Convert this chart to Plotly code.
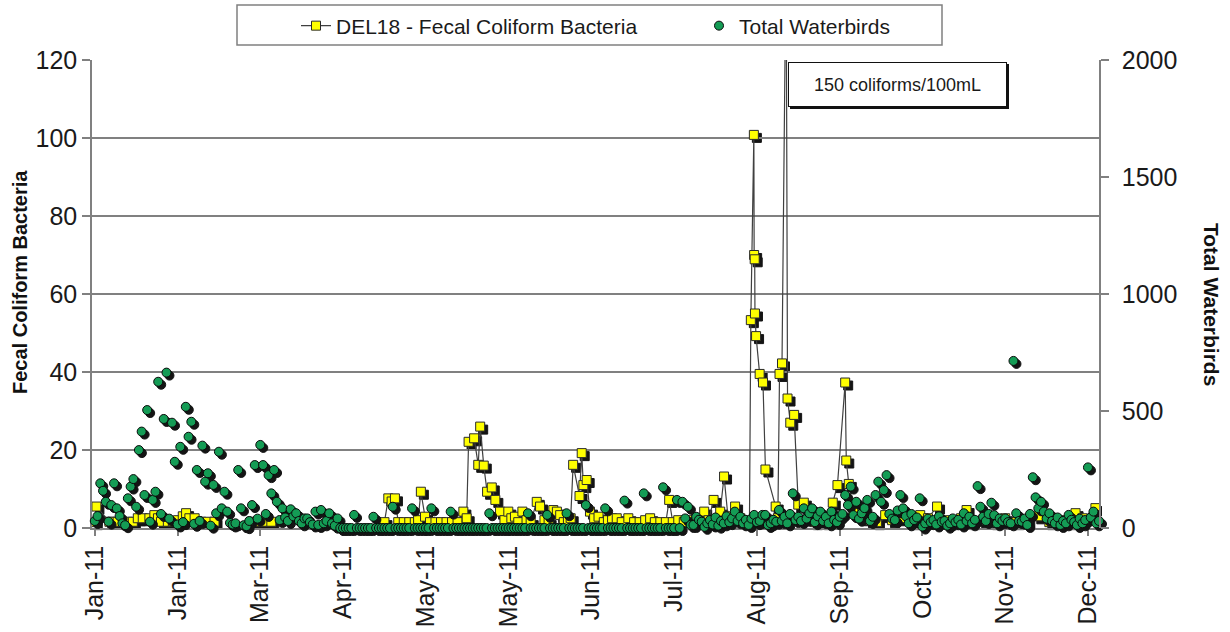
import pandas as pd
import plotly.graph_objects as go

# DEL18 fecal coliform samples: days after 1 Jan 2011 and result (coliforms/100 mL).
# None marks a break in sampling so the line is not drawn across it.
coliform_day = [
    0.0, 0.6, 5.3, 6.5, 8.3, 12.0, 13.8, 15.6, 17.4, 19.8,
    21.6, 22.9, 24.0, 26.5, 28.3, 30.1, 31.9, 33.1, 34.3, 36.2,
    38.6, 41.0, 43.4, 50.0, 56.7, 59.1, 61.6, 64.0, 85.0, 105.0,
    106.4, 107.6, 108.8, 110.0, 112.0, 114.0, 116.0, 117.2, 118.2, 119.7,
    121.5, 123.5, 125.5, 127.5, 129.5, 131.5, 133.6, 134.8, 135.5, 137.5,
    139.0, 139.7, 141.0, 142.2, 143.9, 145.2, 146.9, 148.5, 149.9, 151.0,
    152.3, 153.5, 155.0, 156.5, 158.0, 160.2, 161.4, 163.0, 164.5, 166.2,
    167.5, 168.7, 170.0, 171.5, 172.5, 173.4, 175.7, 176.5, 177.1, 178.3,
    179.5, 181.0, 182.6, 184.5, 186.0, 187.5, 189.2, 191.0, 193.4, 195.5,
    197.5, 199.5, 201.3, 203.0, 205.0, 207.0, 208.2, 209.5, 211.5, 213.5,
    215.5, 218.0, 220.9, 222.5, 224.3, 226.7, 228.1, 229.5, 232.1, 234.0,
    236.0, 237.3, 237.8, 238.9, 239.0, 239.2, 239.3, 239.7, 241.0, 242.2,
    243.1, 246.8, 247.6, 248.2, 249.1, 250.6, 251.1, 252.1, 253.5, 255.0,
    257.0, 259.0, 261.0, 263.0, 265.0, 267.5, 269.2, 272.0, 272.4, 273.3,
    275.0, 278.0, 281.0, 283.5, 286.5, 289.0, 292.0, 296.0, 299.2, 302.0,
    305.3, 308.0, 311.0, 314.0, 316.0, 318.0, 322.0, 326.0, 330.0, 334.0,
    338.0, 342.0, 346.0, 350.0, 354.0, 355.5, 358.0, 362.7,
]
coliform_count = [
    1.5, 5.5, 1.6, 1.6, 1.6, 1.6, 1.6, 2.5, 2.5, 2.5,
    3.3, 2.5, 1.6, 1.6, 1.6, 2.0, 3.0, 3.8, 2.5, 2.5,
    1.6, 1.6, 1.6, None, 1.6, 1.6, 1.6, 1.6, None, 1.5,
    7.6, 6.8, 7.6, 1.5, 1.5, 1.5, 1.5, 2.0, 9.3, 2.9,
    1.5, 1.5, 1.5, 1.5, 1.5, 1.5, 4.2, 2.5, 22.1, 23.0,
    16.2, 26.0, 16.0, 9.3, 10.4, 7.2, 4.2, 2.0, 4.2, 2.5,
    2.9, 1.5, 4.2, 2.0, 1.5, 6.7, 5.5, 2.0, 1.5, 4.6,
    4.2, 3.3, 1.5, 2.0, 2.5, 16.2, 8.2, 19.2, 11.0, 12.3,
    4.2, 2.5, 2.9, 1.5, 2.0, 2.5, 2.5, 1.5, 2.5, 1.5,
    1.5, 2.0, 2.5, 1.5, 1.5, 1.5, 7.2, 1.5, 2.0, 1.5,
    2.0, 2.5, 4.2, 2.0, 7.2, 4.2, 13.2, 3.0, 5.5, 2.5,
    1.5, 1.5, 53.3, 100.8, 70.0, 68.9, 55.0, 49.2, 39.5, 37.3,
    15.0, 5.5, 2.5, 39.5, 42.2, 150.0, 33.2, 27.0, 29.0, 6.0,
    6.5, 2.5, 1.5, 2.0, 1.5, 6.5, 11.0, 37.3, 17.3, 11.3,
    4.0, 2.5, 2.0, 1.5, 3.3, 2.0, 2.5, 1.5, 3.3, 2.5,
    5.5, 2.0, 1.5, 2.5, 4.6, 1.5, 2.0, 1.5, 2.5, 1.5,
    2.0, 3.0, 1.5, 2.0, 1.5, 3.8, 2.5, 5.1,
]

# Daily total waterbird counts, 1 Jan 2011 onwards (one value per day)
waterbirds = [
    30, 51, 191, 159, 112, 27, 98, 191, 84, 51,
    20, 12, 127, 177, 209, 91, 333, 412, 141, 504,
    27, 120, 155, 625, 60, 466, 664, 40, 450, 283,
    15, 347, 25, 518, 390, 454, 18, 248, 30, 352,
    198, 234, 10, 184, 63, 326, 84, 155, 70, 22,
    15, 20, 248, 84, 12, 8, 30, 98, 269, 40,
    355, 269, 60, 226, 148, 248, 112, 34, 84, 45,
    30, 80, 50, 63, 30, 20, 41, 41, 25, 15,
    70, 13, 77, 20, 30, 63, 20, 10, 41, 0,
    0, 0, 0, 0, 56, 0, 0, 0, 0, 0,
    0, 48, 0, 0, 0, 0, 0, 0, 91, 0,
    0, 0, 0, 0, 0, 84, 0, 0, 0, 0,
    0, 0, 84, 0, 0, 0, 0, 0, 0, 70,
    0, 0, 0, 0, 0, 0, 0, 0, 0, 0,
    0, 0, 0, 63, 0, 0, 0, 0, 0, 0,
    0, 0, 0, 0, 0, 0, 0, 63, 0, 0,
    0, 0, 0, 0, 56, 0, 0, 0, 0, 0,
    0, 63, 0, 0, 0, 0, 0, 0, 98, 0,
    0, 0, 0, 0, 0, 84, 0, 0, 0, 0,
    0, 0, 117, 0, 0, 0, 0, 0, 0, 148,
    0, 0, 0, 0, 0, 0, 174, 0, 0, 0,
    0, 120, 0, 112, 41, 91, 13, 13, 48, 35,
    27, 5, 20, 34, 15, 45, 10, 30, 20, 50,
    25, 41, 70, 30, 48, 20, 35, 13, 40, 56,
    25, 30, 56, 56, 13, 20, 35, 27, 77, 30,
    48, 20, 60, 148, 34, 48, 30, 84, 40, 63,
    84, 25, 50, 70, 30, 48, 20, 70, 35, 25,
    48, 60, 141, 98, 177, 55, 112, 40, 63, 85,
    120, 30, 48, 141, 198, 112, 162, 226, 60, 40,
    34, 75, 141, 84, 50, 20, 60, 34, 45, 127,
    6, 20, 40, 25, 34, 15, 50, 27, 30, 10,
    20, 41, 25, 35, 15, 63, 30, 48, 20, 35,
    179, 91, 48, 30, 60, 108, 55, 20, 41, 30,
    41, 25, 20, 714, 63, 30, 27, 40, 13, 60,
    217, 131, 84, 112, 70, 40, 63, 30, 20, 45,
    13, 30, 20, 56, 35, 25, 13, 40, 20, 34,
    259, 45, 70, 20, 30,
]

# Date axis: a tick every 30 days from 1 Jan
tick_dates = [
    "2011-01-01", "2011-01-31", "2011-03-02", "2011-04-01", "2011-05-01",
    "2011-05-31", "2011-06-30", "2011-07-30", "2011-08-29", "2011-09-28",
    "2011-10-28", "2011-11-27", "2011-12-27",
]
tick_labels = [
    "Jan-11", "Jan-11", "Mar-11", "Apr-11", "May-11", "May-11", "Jun-11",
    "Jul-11", "Aug-11", "Sep-11", "Oct-11", "Nov-11", "Dec-11",
]

year_start = pd.Timestamp("2011-01-01")
coliform_dates = [year_start + pd.Timedelta(days=d) for d in coliform_day]
bird_dates = pd.date_range(year_start, periods=len(waterbirds), freq="D")

# ---- geometry (pixels) ----
W, H = 1230, 632
LEFT, TOP = 92, 60
PLOT_W, PLOT_H = 1007, 468
SHADOW = 3                      # drop-shadow offset of the markers
AREA_W, AREA_H = PLOT_W + SHADOW, PLOT_H + SHADOW
RIGHT = W - LEFT - AREA_W
BOTTOM = H - TOP - AREA_H


def px(x):
    return (x - LEFT) / AREA_W


def py(y):
    return (TOP + AREA_H - y) / AREA_H


main_x = [0, PLOT_W / AREA_W]
shadow_x = [SHADOW / AREA_W, 1]
main_y = [SHADOW / AREA_H, 1]
shadow_y = [0, PLOT_H / AREA_H]

x_range = ["2010-12-31", "2011-12-31"]
GRID = "#808080"
FONT = "Liberation Sans, Arial, sans-serif"
TEXT = "#1a1a1a"
YELLOW = "#FFFF00"
GREEN = "#149C55"
SHADE = "#141414"

fig = go.Figure()

# marker shadows sit on subplots nudged right/down by SHADOW pixels
fig.add_trace(go.Scatter(
    x=coliform_dates, y=coliform_count, mode="markers", xaxis="x", yaxis="y",
    marker=dict(symbol="square", size=9, color=SHADE, line=dict(width=1, color=SHADE)),
    showlegend=False, hoverinfo="skip",
))
fig.add_trace(go.Scatter(
    x=coliform_dates, y=coliform_count, mode="lines+markers", xaxis="x2", yaxis="y2",
    name="DEL18 - Fecal Coliform Bacteria",
    line=dict(color="#404040", width=1.2),
    marker=dict(symbol="square", size=9, color=YELLOW, line=dict(width=1, color="#2a2a2a")),
    connectgaps=False,
))
fig.add_trace(go.Scatter(
    x=bird_dates, y=waterbirds, mode="markers", xaxis="x3", yaxis="y3",
    marker=dict(symbol="circle", size=9, color=SHADE, line=dict(width=1, color=SHADE)),
    cliponaxis=False, showlegend=False, hoverinfo="skip",
))
fig.add_trace(go.Scatter(
    x=bird_dates, y=waterbirds, mode="markers", xaxis="x4", yaxis="y4",
    name="Total Waterbirds",
    marker=dict(symbol="circle", size=9, color=GREEN, line=dict(width=1, color="#0a0a0a")),
    cliponaxis=False,
))

hidden_x = dict(type="date", range=x_range, visible=False, fixedrange=True, automargin=False)
tick_font = dict(family=FONT, size=25, color=TEXT)
right_axis = dict(
    range=[0, 2000], tickmode="linear", tick0=0, dtick=500,
    tickwidth=1.5, tickcolor=GRID, ticklen=8, automargin=False,
    showgrid=False, zeroline=False,
)

fig.update_layout(
    width=W, height=H,
    margin=dict(l=LEFT, r=RIGHT, t=TOP, b=BOTTOM, pad=0, autoexpand=False),
    # transparent plot areas so the stacked subplots do not hide each other
    paper_bgcolor="white", plot_bgcolor="rgba(0,0,0,0)",
    font=dict(family=FONT, color=TEXT),
    xaxis=dict(hidden_x, domain=shadow_x, anchor="y"),
    yaxis=dict(range=[0, 120], domain=shadow_y, anchor="x", visible=False, automargin=False),
    xaxis2=dict(
        type="date", range=x_range, domain=main_x, anchor="y2", automargin=False,
        tickmode="array", tickvals=tick_dates, ticktext=tick_labels, tickangle=-90,
        ticks="outside", ticklen=6, tickwidth=1.5, tickcolor=GRID,
        showline=True, linecolor=GRID, linewidth=1.5,
        showgrid=False, zeroline=False, tickfont=tick_font,
    ),
    yaxis2=dict(
        range=[0, 120], domain=main_y, anchor="x2", automargin=False,
        tickmode="linear", tick0=0, dtick=20,
        ticks="outside", ticklen=8, tickwidth=1.5, tickcolor=GRID,
        showline=True, linecolor=GRID, linewidth=1.5,
        showgrid=True, gridcolor=GRID, gridwidth=1.5, zeroline=False,
        tickfont=tick_font,
    ),
    xaxis3=dict(hidden_x, domain=shadow_x, anchor="y3"),
    yaxis3=dict(range=[0, 2000], domain=shadow_y, anchor="x3", visible=False, automargin=False),
    xaxis4=dict(hidden_x, domain=main_x, anchor="y4"),
    yaxis4=dict(
        right_axis, domain=main_y, anchor="x4", side="right",
        ticks="outside", ticklabelstandoff=8,
        showline=True, linecolor=GRID, linewidth=1.5, tickfont=tick_font,
    ),
    # inner half of the crossing tick marks on the right axis
    yaxis5=dict(
        right_axis, overlaying="y4", anchor="x4", side="right",
        ticks="inside", showticklabels=False, showline=False,
    ),
    legend=dict(
        orientation="h", xref="container", yref="container",
        x=296 / W, xanchor="left", y=1 - 26 / H, yanchor="middle",
        font=dict(family=FONT, size=21, color=TEXT),
        bgcolor="rgba(0,0,0,0)", borderwidth=0,
        entrywidth=358, entrywidthmode="pixels", traceorder="normal",
    ),
    showlegend=True,
    hovermode=False,
)

# legend frame and the shadow behind the threshold note
fig.add_shape(type="rect", xref="paper", yref="paper",
              x0=px(237), x1=px(942), y0=py(45), y1=py(5),
              line=dict(color=GRID, width=1.5), fillcolor="rgba(0,0,0,0)")
fig.add_shape(type="rect", xref="paper", yref="paper",
              x0=px(790), x1=px(1009), y0=py(109), y1=py(64),
              line=dict(width=0), fillcolor="#111111")

fig.add_annotation(
    xref="paper", yref="paper", x=px(897.5), y=py(84.5),
    xanchor="center", yanchor="middle",
    text="150 coliforms/100mL", showarrow=False,
    font=dict(family=FONT, size=18, color=TEXT),
    bgcolor="white", bordercolor="#111111", borderwidth=1, borderpad=3,
    width=211, height=37,
)
fig.add_annotation(
    xref="paper", yref="paper", x=px(20), y=py(282),
    xanchor="center", yanchor="middle", textangle=-90,
    text="<b>Fecal Coliform Bacteria</b>", showarrow=False,
    font=dict(family=FONT, size=20, color="#111111"),
)
fig.add_annotation(
    xref="paper", yref="paper", x=px(1212), y=py(304),
    xanchor="center", yanchor="middle", textangle=90,
    text="<b>Total Waterbirds</b>", showarrow=False,
    font=dict(family=FONT, size=21, color="#111111"),
)

fig.write_html("out.html", config={"displayModeBar": False})
